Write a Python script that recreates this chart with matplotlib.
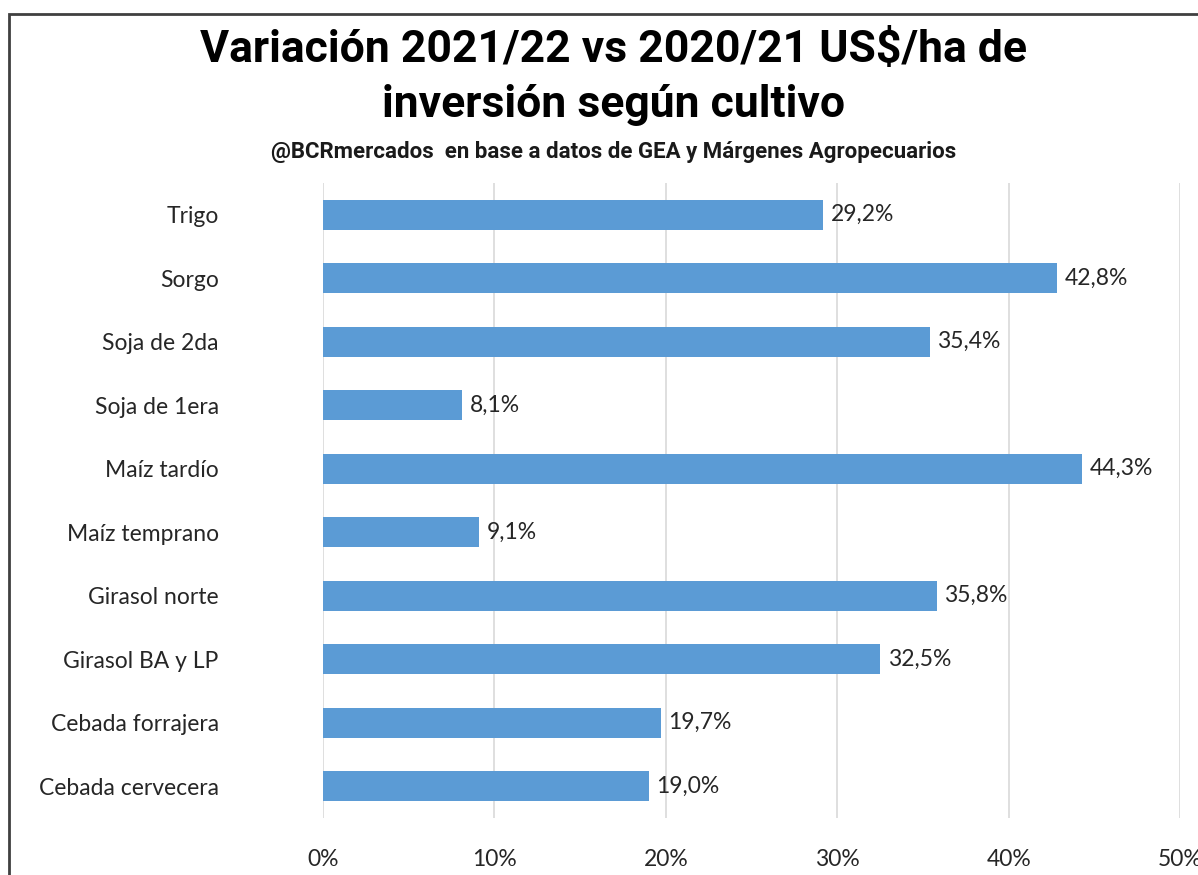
import matplotlib.pyplot as plt
from matplotlib.ticker import FuncFormatter
from matplotlib.patches import Rectangle

cultivos = ["Trigo", "Sorgo", "Soja de 2da", "Soja de 1era", "Maíz tardío",
            "Maíz temprano", "Girasol norte", "Girasol BA y LP",
            "Cebada forrajera", "Cebada cervecera"]
variacion = [29.2, 42.8, 35.4, 8.1, 44.3, 9.1, 35.8, 32.5, 19.7, 19.0]
ticks = [0, 10, 20, 30, 40, 50]

title_font = ["Roboto", "DejaVu Sans"]
label_font = ["Lato", "DejaVu Sans"]
txt_color = "#262626"
fs = 16.5

fig = plt.figure(figsize=(11.98, 8.75), dpi=100)
ax = fig.add_axes([0.2696, 0.0651, 0.7154, 0.7258])

y = list(range(len(cultivos)))
ax.barh(y, variacion, height=0.47, color="#5B9BD5", zorder=3)
ax.set_ylim(len(cultivos) - 0.5, -0.5)
ax.set_xlim(0, 50)
ax.set_xticks(ticks)
ax.xaxis.set_major_formatter(FuncFormatter(lambda v, p: f"{v:.0f}%"))
ax.set_yticks(y)
ax.set_yticklabels(cultivos, family=label_font, fontsize=fs, color=txt_color)
for lab in ax.get_xticklabels():
    lab.set_family(label_font)
    lab.set_fontsize(fs)
    lab.set_color(txt_color)
ax.tick_params(length=0)
ax.tick_params(axis="y", pad=75)
ax.tick_params(axis="x", pad=22)
ax.grid(axis="x", color="#d9d9d9", linewidth=1.2, zorder=0)
for s in ax.spines.values():
    s.set_visible(False)

for yi, v in zip(y, variacion):
    ax.text(v + 0.45, yi, f"{v:.1f}%".replace(".", ","), va="center", ha="left",
            family=label_font, fontsize=fs, color=txt_color)

fig.text(0.512, 0.943, "Variación 2021/22 vs 2020/21 US$/ha de",
         ha="center", va="center", family=title_font, fontweight="bold",
         fontsize=32, color="black")
fig.text(0.512, 0.880, "inversión según cultivo",
         ha="center", va="center", family=title_font, fontweight="bold",
         fontsize=32, color="black")
fig.text(0.512, 0.826, "@BCRmercados  en base a datos de GEA y Márgenes Agropecuarios",
         ha="center", va="center", family=title_font, fontweight="bold",
         fontsize=16, color="#1a1a1a")

# marco del grafico
fig.add_artist(Rectangle((9 / 1198, -0.1), 1.2, 1.1 - 14 / 875,
                         transform=fig.transFigure, fill=False,
                         edgecolor="#404040", linewidth=2))

fig.savefig("out.png", dpi=100)
